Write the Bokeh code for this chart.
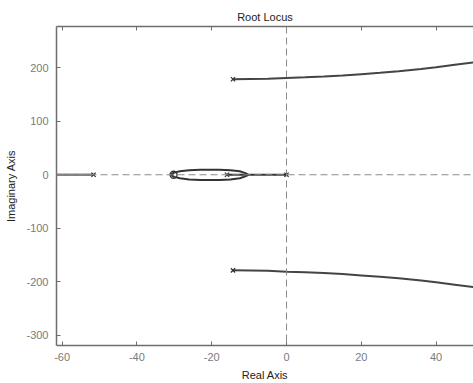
from bokeh.plotting import figure
from bokeh.models import LinearAxis, SingleIntervalTicker, Range1d, Span, CustomJSTickFormatter
from bokeh.embed import file_html
from bokeh.resources import INLINE

# ---- data ----
poles_re = [0.0, -15.9, -14.3, -14.3, -51.6]
poles_im = [0.0, 0.0, 178.5, -178.5, 0.0]
zeros_re = [-30.2]
zeros_im = [0.0]

# branch from the far-left pole towards -infinity
left_re = [-51.6, -70.0]
left_im = [0.0, 0.0]

# real-axis segment between the poles at 0 and -16
seg_re = [0.0, -15.9]
seg_im = [0.0, 0.0]

# break-away loop from -10.2 round to -30.7 then to the zero at -30.2
loop_up_re = [-10.2, -11.0, -12.5, -15.0, -18.0, -23.0, -26.0, -28.5, -30.0, -30.7, -30.7, -30.2]
loop_up_im = [0.0, 3.0, 6.5, 8.5, 9.5, 9.5, 8.5, 6.5, 4.0, 1.5, 0.0, 0.0]
loop_dn_re = [-10.2, -11.0, -12.5, -15.0, -18.0, -23.0, -26.0, -28.5, -30.0, -30.7, -30.7]
loop_dn_im = [0.0, -3.0, -6.5, -9.0, -10.0, -10.0, -9.0, -6.5, -4.0, -1.5, 0.0]

# complex branches
cplx_re = [-14.3, -5.0, 0.0, 5.0, 10.0, 15.0, 20.0, 25.0, 30.0, 36.0, 40.0, 45.0, 50.0, 55.0]
cplx_up = [178.5, 179.5, 181.0, 182.0, 183.5, 185.5, 188.0, 190.5, 193.5, 197.5, 201.0, 205.5, 210.0, 214.5]
cplx_dn = [-v for v in cplx_up]

x_ticks_interval = 20
y_ticks_interval = 100

p = figure(width=473, height=383, output_backend="svg", toolbar_location=None,
           x_range=Range1d(-61.5, 50.0), y_range=Range1d(-319, 277),
           min_border_left=56, min_border_right=0, min_border_top=26, min_border_bottom=35,
           background_fill_color="white", border_fill_color="white")
p.outline_line_color = None
p.xgrid.visible = False
p.ygrid.visible = False

p.title.text = "Root Locus"
p.title.align = "center"
p.title.text_font = "Liberation Sans"
p.title.text_font_size = "11px"
p.title.text_font_style = "normal"
p.title.text_color = "#222222"
p.title.standoff = 0
p.title.offset = 0

axis_col = "#6e6e6e"
lab_col = "#7a7a7a"
fmt = CustomJSTickFormatter(code="return tick.toString();")

def style(ax):
    ax.axis_line_color = axis_col
    ax.axis_line_width = 1.5
    ax.major_tick_line_color = axis_col
    ax.major_tick_in = 4
    ax.major_tick_out = 0
    ax.minor_tick_line_color = None
    ax.major_label_text_font = "Liberation Sans"
    ax.major_label_text_font_size = "11px"
    ax.major_label_text_color = lab_col
    ax.axis_label_text_font = "Liberation Sans"
    ax.axis_label_text_font_size = "11px"
    ax.axis_label_text_font_style = "normal"
    ax.axis_label_text_color = "#222222"

xa = p.xaxis[0]
xa.ticker = SingleIntervalTicker(interval=x_ticks_interval)
xa.formatter = fmt
xa.axis_label = "Real Axis"
style(xa)
xa.major_label_standoff = 3
xa.axis_label_standoff = 5

ya = p.yaxis[0]
ya.ticker = SingleIntervalTicker(interval=y_ticks_interval)
ya.formatter = fmt
ya.axis_label = "Imaginary Axis"
style(ya)
ya.major_label_standoff = 4
ya.axis_label_standoff = 6

top = LinearAxis(ticker=SingleIntervalTicker(interval=x_ticks_interval),
                 formatter=CustomJSTickFormatter(code="return '';"))
style(top)
top.major_label_standoff = 0
p.add_layout(top, "above")

# dashed zero lines
p.add_layout(Span(location=0, dimension="width", line_color="#8a8a8a", line_dash="7 4", line_width=1))
p.add_layout(Span(location=0, dimension="height", line_color="#8a8a8a", line_dash="7 4", line_width=1))

# locus branches
p.line(left_re, left_im, line_color="#808080", line_width=2.5)
p.line(seg_re, seg_im, line_color="#333333", line_width=2.2)
p.line(loop_up_re, loop_up_im, line_color="#333333", line_width=2)
p.line(loop_dn_re, loop_dn_im, line_color="#333333", line_width=2)
p.line(cplx_re, cplx_up, line_color="#444444", line_width=2)
p.line(cplx_re, cplx_dn, line_color="#444444", line_width=2)

# poles and zeros
p.scatter(poles_re, poles_im, marker="x", size=6, line_color="#333333", line_width=1.3)
p.scatter(zeros_re, zeros_im, marker="circle", size=7, fill_color=None, line_color="#333333", line_width=1.3)

open("out.html", "w").write(file_html(p, INLINE))
